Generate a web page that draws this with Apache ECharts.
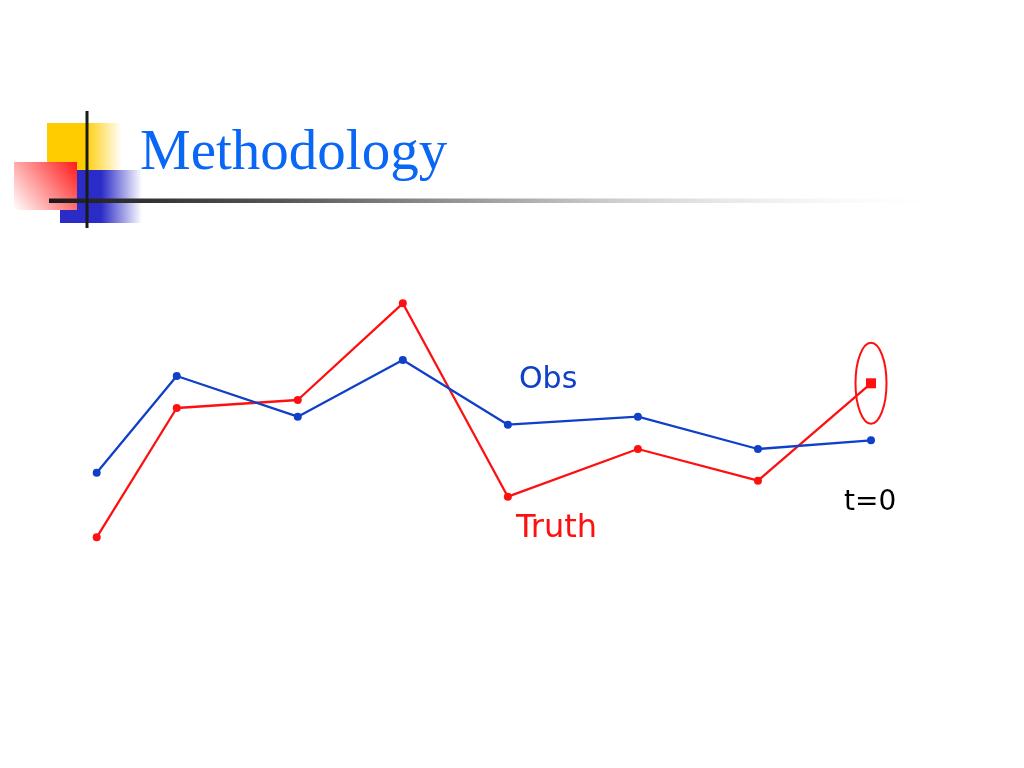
<!DOCTYPE html>
<html>
<head>
<meta charset="utf-8">
<script src="https://cdn.jsdelivr.net/npm/echarts@6/dist/echarts.min.js"></script>
<style>
html,body{margin:0;padding:0;background:#fff;}
#c{width:1024px;height:768px;}
</style>
</head>
<body>
<div id="c"></div>
<script>
// Time positions (t=0 is the last point)
const times = [-7.74, -6.94, -5.73, -4.68, -3.63, -2.33, -1.13, 0];
const obs   = [6.46, 16.13, 12.06, 17.73, 11.26, 12.06, 8.83, 9.70];
const truth = [0.0, 12.93, 13.73, 23.40, 4.06, 8.83, 5.66, 15.40];
const titleText = 'Methodology';
const obsLabel = 'Obs';
const truthLabel = 'Truth';
const t0Label = 't=0';

const chart = echarts.init(document.getElementById('c'), null, {renderer:'canvas'});

const obsData = times.map((t, i) => [t, obs[i]]);
const truthData = times.map((t, i) => {
  if (i === times.length - 1) return {value:[t, truth[i]], symbol:'rect', symbolSize:10};
  return [t, truth[i]];
});

const option = {
  animation: false,
  backgroundColor: '#ffffff',
  title: {
    text: titleText,
    left: 135, top: 121,
    textStyle: {fontFamily: '"Liberation Serif","Times New Roman",serif', fontSize: 57, fontWeight: 'normal', color: '#0A66F5'}
  },
  grid: {left: 96.7, right: 153, top: 287.3, bottom: 230.7},
  xAxis: {type: 'value', min: -7.74, max: 0, show: false},
  yAxis: {type: 'value', min: 0, max: 25, show: false},
  series: [
    {
      name: 'Obs', type: 'line', data: obsData,
      symbol: 'circle', symbolSize: 8,
      lineStyle: {color: '#1040C8', width: 2.3},
      itemStyle: {color: '#1040C8'},
      z: 3
    },
    {
      name: 'Truth', type: 'line', data: truthData,
      symbol: 'circle', symbolSize: 8,
      lineStyle: {color: '#FF1010', width: 2.3},
      itemStyle: {color: '#FF1010'},
      z: 2
    }
  ],
  graphic: [
    // decorative squares
    {type:'rect', shape:{x:47, y:123, width:75, height:48}, z:1,
     style:{fill:{type:'linear', x:0, y:0, x2:1, y2:0, colorStops:[
       {offset:0, color:'#FFCC00'},{offset:0.5, color:'#FFCC00'},{offset:1, color:'rgba(255,204,0,0)'}]}}},
    {type:'rect', shape:{x:60, y:170, width:82, height:53}, z:1,
     style:{fill:{type:'linear', x:0, y:0, x2:1, y2:0, colorStops:[
       {offset:0, color:'#2B2BC8'},{offset:0.5, color:'#2B2BC8'},{offset:1, color:'rgba(43,43,200,0)'}]}}},
    {type:'rect', shape:{x:14, y:162, width:63, height:48}, z:2,
     style:{fill:{type:'linear', x:1, y:0, x2:0, y2:1, colorStops:[
       {offset:0, color:'#FF1A1A'},{offset:1, color:'#FFFFFF'}]}}},
    // vertical black bar
    {type:'rect', shape:{x:85.5, y:111, width:3, height:117}, z:4, style:{fill:'#1a1a1a'}},
    // horizontal gradient rule
    {type:'rect', shape:{x:49, y:198.5, width:915, height:4.5}, z:3,
     style:{fill:{type:'linear', x:0, y:0, x2:1, y2:0, colorStops:[
       {offset:0, color:'#1a1a1a'},{offset:0.25, color:'#555555'},{offset:0.6, color:'#C8C8C8'},{offset:1, color:'rgba(255,255,255,0)'}]}}},
    // labels
    {type:'text', x:519, y:395, z:5, style:{text:obsLabel, fill:'#1040C8', font:'30px "DejaVu Sans", Verdana, sans-serif', textVerticalAlign:'bottom'}},
    {type:'text', x:516, y:545, z:5, style:{text:truthLabel, fill:'#FF1010', font:'32px "DejaVu Sans", Verdana, sans-serif', textVerticalAlign:'bottom'}},
    {type:'text', x:844, y:517, z:5, style:{text:t0Label, fill:'#000000', font:'28px "DejaVu Sans", Verdana, sans-serif', textVerticalAlign:'bottom'}}
  ]
};
chart.setOption(option);

// ellipse around the last truth point, positioned from the axes
const last = times.length - 1;
const p = chart.convertToPixel({gridIndex:0}, [times[last], truth[last]]);
chart.setOption({
  graphic: [{
    id: 'ring', type: 'ellipse', z: 5,
    shape: {cx: p[0], cy: p[1], rx: 15.5, ry: 40.5},
    style: {fill: 'none', stroke: '#FF1010', lineWidth: 2}
  }]
});
</script>
</body>
</html>
